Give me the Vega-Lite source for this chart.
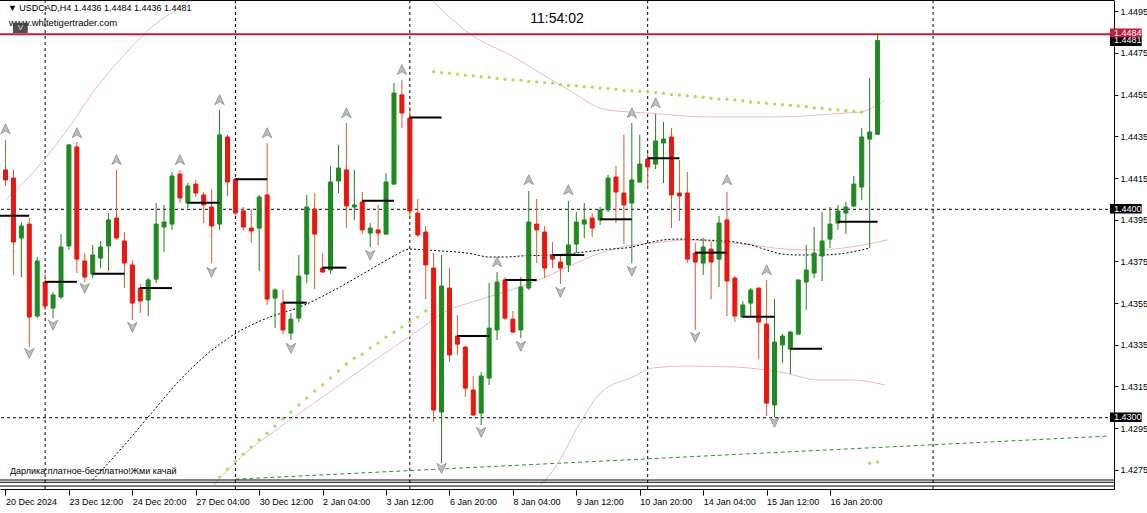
{
"$schema":"https://vega.github.io/schema/vega-lite/v6.json",
"width":1114,"height":489,
"autosize":{"type":"none"},
"padding":{"left":0,"top":0,"right":33,"bottom":24},
"background":"white",
"config":{"view":{"stroke":null},"font":"Liberation Sans",
 "axisX":{"orient":"bottom","title":null,"grid":false,
    "labelAlign":"left","labelBaseline":"top","labelPadding":2,"tickSize":6,"tickColor":"#000","domainColor":"#000","labelColor":"#000","labelFont":"Liberation Sans","labelFontSize":9,"labelOverlap":false,"labelFlush":false,"labelBound":false},
 "axisY":{"orient":"right","title":null,"grid":false,
    "tickSize":4,"labelPadding":2,"tickColor":"#000","domainColor":"#000","labelColor":"#000","labelFont":"Liberation Sans","labelFontSize":9,"labelOverlap":false,"labelFlush":false,"labelBound":false}
},
"datasets":{
"candles":[
{"i":0,"o":1.44189,"h":1.44333,"l":1.44112,"c":1.44141},
{"i":1,"o":1.44150,"h":1.44189,"l":1.43685,"c":1.43843},
{"i":2,"o":1.43862,"h":1.43939,"l":1.43675,"c":1.43920},
{"i":3,"o":1.43929,"h":1.43958,"l":1.43339,"c":1.43483},
{"i":4,"o":1.43488,"h":1.43771,"l":1.43478,"c":1.43752},
{"i":5,"o":1.43651,"h":1.43689,"l":1.43517,"c":1.43536},
{"i":6,"o":1.43526,"h":1.43603,"l":1.43478,"c":1.43589},
{"i":7,"o":1.43579,"h":1.43881,"l":1.43570,"c":1.43819},
{"i":8,"o":1.43824,"h":1.44312,"l":1.43805,"c":1.44309},
{"i":9,"o":1.44299,"h":1.44323,"l":1.43694,"c":1.43761},
{"i":10,"o":1.43752,"h":1.43790,"l":1.43651,"c":1.43675},
{"i":11,"o":1.43689,"h":1.43829,"l":1.43670,"c":1.43781},
{"i":12,"o":1.43766,"h":1.43848,"l":1.43718,"c":1.43819},
{"i":13,"o":1.43824,"h":1.43982,"l":1.43704,"c":1.43949},
{"i":14,"o":1.43958,"h":1.44189,"l":1.43855,"c":1.43862},
{"i":15,"o":1.43848,"h":1.43891,"l":1.43622,"c":1.43742},
{"i":16,"o":1.43733,"h":1.43757,"l":1.43469,"c":1.43550},
{"i":17,"o":1.43622,"h":1.43641,"l":1.43502,"c":1.43560},
{"i":18,"o":1.43565,"h":1.43670,"l":1.43488,"c":1.43661},
{"i":19,"o":1.43665,"h":1.44030,"l":1.43646,"c":1.43929},
{"i":20,"o":1.43915,"h":1.44021,"l":1.43795,"c":1.43939},
{"i":21,"o":1.43929,"h":1.44179,"l":1.43901,"c":1.44160},
{"i":22,"o":1.44169,"h":1.44189,"l":1.44030,"c":1.44054},
{"i":23,"o":1.44030,"h":1.44126,"l":1.44006,"c":1.44112},
{"i":24,"o":1.44121,"h":1.44141,"l":1.44059,"c":1.44078},
{"i":25,"o":1.44069,"h":1.44083,"l":1.43934,"c":1.44021},
{"i":26,"o":1.44011,"h":1.44097,"l":1.43742,"c":1.43920},
{"i":27,"o":1.43929,"h":1.44477,"l":1.43901,"c":1.44357},
{"i":28,"o":1.44347,"h":1.44357,"l":1.44064,"c":1.44131},
{"i":29,"o":1.44145,"h":1.44150,"l":1.43973,"c":1.43982},
{"i":30,"o":1.43992,"h":1.44011,"l":1.43896,"c":1.43915},
{"i":31,"o":1.43910,"h":1.44001,"l":1.43838,"c":1.43896},
{"i":32,"o":1.43910,"h":1.44069,"l":1.43704,"c":1.44059},
{"i":33,"o":1.44069,"h":1.44318,"l":1.43541,"c":1.43569},
{"i":34,"o":1.43574,"h":1.43622,"l":1.43430,"c":1.43613},
{"i":35,"o":1.43550,"h":1.43613,"l":1.43401,"c":1.43421},
{"i":36,"o":1.43406,"h":1.43502,"l":1.43373,"c":1.43473},
{"i":37,"o":1.43478,"h":1.43781,"l":1.43459,"c":1.43680},
{"i":38,"o":1.43689,"h":1.44069,"l":1.43646,"c":1.44011},
{"i":39,"o":1.44001,"h":1.44078,"l":1.43617,"c":1.43881},
{"i":40,"o":1.43718,"h":1.43790,"l":1.43695,"c":1.43699},
{"i":41,"o":1.43709,"h":1.44208,"l":1.43689,"c":1.44131},
{"i":42,"o":1.44136,"h":1.44309,"l":1.44078,"c":1.44198},
{"i":43,"o":1.44189,"h":1.44414,"l":1.43910,"c":1.44016},
{"i":44,"o":1.44011,"h":1.44189,"l":1.43949,"c":1.44021},
{"i":45,"o":1.44035,"h":1.44083,"l":1.43881,"c":1.43901},
{"i":46,"o":1.43886,"h":1.43934,"l":1.43819,"c":1.43910},
{"i":47,"o":1.43901,"h":1.44021,"l":1.43829,"c":1.43886},
{"i":48,"o":1.43881,"h":1.44174,"l":1.43878,"c":1.44131},
{"i":49,"o":1.44121,"h":1.44606,"l":1.44117,"c":1.44558},
{"i":50,"o":1.44549,"h":1.44621,"l":1.44390,"c":1.44462},
{"i":51,"o":1.44438,"h":1.44491,"l":1.43963,"c":1.43992},
{"i":52,"o":1.43982,"h":1.44049,"l":1.43867,"c":1.43877},
{"i":53,"o":1.43891,"h":1.43920,"l":1.43569,"c":1.43733},
{"i":54,"o":1.43718,"h":1.43790,"l":1.42979,"c":1.43037},
{"i":55,"o":1.43027,"h":1.43781,"l":1.42782,"c":1.43632},
{"i":56,"o":1.43622,"h":1.43718,"l":1.43267,"c":1.43301},
{"i":57,"o":1.43392,"h":1.43493,"l":1.43301,"c":1.43353},
{"i":58,"o":1.43339,"h":1.43344,"l":1.43099,"c":1.43142},
{"i":59,"o":1.43133,"h":1.43200,"l":1.43008,"c":1.43013},
{"i":60,"o":1.43022,"h":1.43219,"l":1.42965,"c":1.43200},
{"i":61,"o":1.43190,"h":1.43646,"l":1.43157,"c":1.43430},
{"i":62,"o":1.43421,"h":1.43699,"l":1.43373,"c":1.43651},
{"i":63,"o":1.43661,"h":1.43675,"l":1.43469,"c":1.43478},
{"i":64,"o":1.43473,"h":1.43512,"l":1.43406,"c":1.43411},
{"i":65,"o":1.43421,"h":1.43675,"l":1.43382,"c":1.43627},
{"i":66,"o":1.43622,"h":1.44088,"l":1.43613,"c":1.43939},
{"i":67,"o":1.43929,"h":1.44049,"l":1.43742,"c":1.43901},
{"i":68,"o":1.43891,"h":1.43920,"l":1.43670,"c":1.43718},
{"i":69,"o":1.43781,"h":1.43843,"l":1.43718,"c":1.43761},
{"i":70,"o":1.43747,"h":1.43781,"l":1.43641,"c":1.43718},
{"i":71,"o":1.43733,"h":1.44040,"l":1.43699,"c":1.43829},
{"i":72,"o":1.43833,"h":1.43987,"l":1.43790,"c":1.43939},
{"i":73,"o":1.43929,"h":1.44030,"l":1.43862,"c":1.43949},
{"i":74,"o":1.43958,"h":1.43982,"l":1.43867,"c":1.43910},
{"i":75,"o":1.43949,"h":1.44011,"l":1.43925,"c":1.43997},
{"i":76,"o":1.43997,"h":1.44165,"l":1.43987,"c":1.44150},
{"i":77,"o":1.44155,"h":1.44208,"l":1.43934,"c":1.44083},
{"i":78,"o":1.44078,"h":1.44357,"l":1.43833,"c":1.44021},
{"i":79,"o":1.44030,"h":1.44414,"l":1.43742,"c":1.44141},
{"i":80,"o":1.44131,"h":1.44357,"l":1.44126,"c":1.44217},
{"i":81,"o":1.44241,"h":1.44270,"l":1.44097,"c":1.44203},
{"i":82,"o":1.44217,"h":1.44457,"l":1.44193,"c":1.44328},
{"i":83,"o":1.44318,"h":1.44419,"l":1.44126,"c":1.44337},
{"i":84,"o":1.44347,"h":1.44390,"l":1.43910,"c":1.44069},
{"i":85,"o":1.44078,"h":1.44237,"l":1.43944,"c":1.44064},
{"i":86,"o":1.44078,"h":1.44179,"l":1.43742,"c":1.43761},
{"i":87,"o":1.43790,"h":1.43838,"l":1.43421,"c":1.43747},
{"i":88,"o":1.43742,"h":1.43862,"l":1.43685,"c":1.43819},
{"i":89,"o":1.43809,"h":1.43843,"l":1.43569,"c":1.43747},
{"i":90,"o":1.43761,"h":1.43968,"l":1.43627,"c":1.43934},
{"i":91,"o":1.43949,"h":1.44083,"l":1.43488,"c":1.43656},
{"i":92,"o":1.43670,"h":1.43680,"l":1.43459,"c":1.43488},
{"i":93,"o":1.43483,"h":1.43560,"l":1.43478,"c":1.43541},
{"i":94,"o":1.43550,"h":1.43622,"l":1.43483,"c":1.43613},
{"i":95,"o":1.43622,"h":1.43627,"l":1.43281,"c":1.43459},
{"i":96,"o":1.43449,"h":1.43661,"l":1.43008,"c":1.43070},
{"i":97,"o":1.43061,"h":1.43569,"l":1.43003,"c":1.43363},
{"i":98,"o":1.43349,"h":1.43401,"l":1.43262,"c":1.43392},
{"i":99,"o":1.43329,"h":1.43416,"l":1.43209,"c":1.43411},
{"i":100,"o":1.43401,"h":1.43661,"l":1.43396,"c":1.43661},
{"i":101,"o":1.43651,"h":1.43829,"l":1.43517,"c":1.43709},
{"i":102,"o":1.43694,"h":1.43915,"l":1.43670,"c":1.43790},
{"i":103,"o":1.43776,"h":1.43987,"l":1.43656,"c":1.43848},
{"i":104,"o":1.43857,"h":1.44011,"l":1.43814,"c":1.43929},
{"i":105,"o":1.43934,"h":1.44021,"l":1.43901,"c":1.43992},
{"i":106,"o":1.43982,"h":1.44035,"l":1.43881,"c":1.44011},
{"i":107,"o":1.44016,"h":1.44160,"l":1.44011,"c":1.44121},
{"i":108,"o":1.44107,"h":1.44390,"l":1.44045,"c":1.44347},
{"i":109,"o":1.44337,"h":1.44630,"l":1.43814,"c":1.44371},
{"i":110,"o":1.4436,"h":1.4484,"l":1.4436,"c":1.4481}
],
"fractals":[
{"i":0,"p":1.44385,"d":"up"},{"i":9,"p":1.44366,"d":"up"},{"i":14,"p":1.44237,"d":"up"},{"i":22,"p":1.44237,"d":"up"},{"i":27,"p":1.44525,"d":"up"},{"i":33,"p":1.44366,"d":"up"},{"i":43,"p":1.44462,"d":"up"},{"i":50,"p":1.44669,"d":"up"},{"i":62,"p":1.43747,"d":"up"},{"i":66,"p":1.44141,"d":"up"},{"i":71,"p":1.44093,"d":"up"},{"i":79,"p":1.44462,"d":"up"},{"i":82,"p":1.44510,"d":"up"},{"i":91,"p":1.44141,"d":"up"},{"i":96,"p":1.43709,"d":"up"},
{"i":3,"p":1.43310,"d":"down"},{"i":6,"p":1.43445,"d":"down"},{"i":10,"p":1.43622,"d":"down"},{"i":16,"p":1.43435,"d":"down"},{"i":26,"p":1.43699,"d":"down"},{"i":36,"p":1.43334,"d":"down"},{"i":46,"p":1.43781,"d":"down"},{"i":55,"p":1.42758,"d":"down"},{"i":60,"p":1.42931,"d":"down"},{"i":65,"p":1.43344,"d":"down"},{"i":70,"p":1.43603,"d":"down"},{"i":79,"p":1.43704,"d":"down"},{"i":87,"p":1.43387,"d":"down"},{"i":97,"p":1.42979,"d":"down"}
],
"segments":[
{"a":-1,"b":3,"p":1.43969},{"a":5,"b":9,"p":1.43652},{"a":11,"b":15,"p":1.43691},{"a":17,"b":21,"p":1.43622},{"a":23,"b":27,"p":1.44032},{"a":29,"b":33,"p":1.44144},{"a":35,"b":38,"p":1.43552},{"a":40,"b":43,"p":1.43720},{"a":45,"b":49,"p":1.44041},{"a":51,"b":55,"p":1.44440},{"a":57,"b":61,"p":1.43392},{"a":63,"b":67,"p":1.43661},{"a":69,"b":73,"p":1.43781},{"a":75,"b":79,"p":1.43952},{"a":81,"b":85,"p":1.44245},{"a":87,"b":91,"p":1.43792},{"a":93,"b":97,"p":1.43484},{"a":99,"b":103,"p":1.43331},{"a":105,"b":110,"p":1.43940}
],
"ma":[
{"i":11,"p":1.42701},{"i":15,"p":1.42869},{"i":18.75,"p":1.43037},{"i":22,"p":1.43181},{"i":25,"p":1.43291},{"i":29.1,"p":1.43406},{"i":33,"p":1.43478},{"i":37.1,"p":1.43531},{"i":41,"p":1.43603},{"i":43.75,"p":1.43661},{"i":47,"p":1.43733},{"i":49,"p":1.43776},{"i":51,"p":1.43809},{"i":53,"p":1.43805},{"i":55,"p":1.43800},{"i":57,"p":1.43795},{"i":59,"p":1.43785},{"i":61,"p":1.43771},{"i":63,"p":1.43771},{"i":65,"p":1.43776},{"i":69,"p":1.43781},{"i":73,"p":1.43795},{"i":75,"p":1.43805},{"i":79,"p":1.43819},{"i":81,"p":1.43838},{"i":83,"p":1.43853},{"i":85,"p":1.43857},{"i":88,"p":1.43853},{"i":92,"p":1.43843},{"i":94,"p":1.43829},{"i":96,"p":1.43805},{"i":98,"p":1.43785},{"i":100,"p":1.43781},{"i":103,"p":1.43781},{"i":106,"p":1.43790},{"i":108,"p":1.43805},{"i":109,"p":1.43814}
],
"bandUp":[
{"i":0,"p":1.44045},{"i":4.1,"p":1.44203},{"i":8.4,"p":1.44414},{"i":11.25,"p":1.44573},{"i":15,"p":1.44741},{"i":18.75,"p":1.44885},{"i":22.5,"p":1.44981},{"i":25,"p":1.45053},{"i":37.5,"p":1.45293},{"i":52.5,"p":1.45053},{"i":53.75,"p":1.45005},{"i":58.4,"p":1.44846},{"i":64.1,"p":1.44731},{"i":70.4,"p":1.44587},{"i":75.9,"p":1.44477},{"i":80.9,"p":1.44462},{"i":89.1,"p":1.44443},{"i":97.5,"p":1.44443},{"i":105.9,"p":1.44462},{"i":107.9,"p":1.44467},{"i":110.9,"p":1.44525}
],
"bandMid":[
{"i":26.25,"p":1.42677},{"i":30,"p":1.42821},{"i":35,"p":1.42965},{"i":40,"p":1.43099},{"i":46.6,"p":1.43277},{"i":51.6,"p":1.43406},{"i":55.9,"p":1.43517},{"i":58.4,"p":1.43550},{"i":62.5,"p":1.43598},{"i":66.6,"p":1.43651},{"i":70.9,"p":1.43723},{"i":75,"p":1.43790},{"i":79.1,"p":1.43829},{"i":81.6,"p":1.43838},{"i":85.9,"p":1.43853},{"i":90,"p":1.43843},{"i":94.1,"p":1.43829},{"i":98.4,"p":1.43809},{"i":102.5,"p":1.43805},{"i":106.6,"p":1.43819},{"i":111.25,"p":1.43853}
],
"bandLow":[
{"i":67.5,"p":1.42677},{"i":69.1,"p":1.42749},{"i":72.9,"p":1.43003},{"i":75,"p":1.43118},{"i":79.1,"p":1.43195},{"i":81.6,"p":1.43238},{"i":85.9,"p":1.43248},{"i":92.1,"p":1.43243},{"i":98.4,"p":1.43214},{"i":102.5,"p":1.43181},{"i":106.6,"p":1.43181},{"i":110.9,"p":1.43157}
],
"dots":[
{"i":27,"p":1.42715},{"i":28,"p":1.42753},{"i":29,"p":1.42792},{"i":30,"p":1.42825},{"i":31,"p":1.42859},{"i":32,"p":1.42893},{"i":33,"p":1.42926},{"i":34,"p":1.42960},{"i":35,"p":1.42993},{"i":36,"p":1.43027},{"i":37,"p":1.43061},{"i":38,"p":1.43094},{"i":39,"p":1.43128},{"i":40,"p":1.43157},{"i":41,"p":1.43190},{"i":42,"p":1.43224},{"i":43,"p":1.43257},{"i":44,"p":1.43286},{"i":45,"p":1.43305},{"i":46,"p":1.43334},{"i":47,"p":1.43358},{"i":48,"p":1.43387},{"i":49,"p":1.43410},{"i":50,"p":1.43435},{"i":51,"p":1.43459},{"i":52,"p":1.43483},{"i":53,"p":1.43512},
{"i":54,"p":1.44660},{"i":55,"p":1.44656},{"i":56,"p":1.44653},{"i":57,"p":1.44649},{"i":58,"p":1.44643},{"i":59,"p":1.44640},{"i":60,"p":1.44636},{"i":61,"p":1.44634},{"i":62,"p":1.44627},{"i":63,"p":1.44624},{"i":64,"p":1.44621},{"i":65,"p":1.44619},{"i":66,"p":1.44614},{"i":67,"p":1.44611},{"i":68,"p":1.44608},{"i":69,"p":1.44605},{"i":70,"p":1.44598},{"i":71,"p":1.44595},{"i":72,"p":1.44592},{"i":73,"p":1.44588},{"i":74,"p":1.44586},{"i":75,"p":1.44582},{"i":76,"p":1.44579},{"i":77,"p":1.44576},{"i":78,"p":1.44569},{"i":79,"p":1.44568},{"i":80,"p":1.44566},{"i":81,"p":1.44563},{"i":82,"p":1.44560},{"i":83,"p":1.44557},{"i":84,"p":1.44550},{"i":85,"p":1.44549},{"i":86,"p":1.44545},{"i":87,"p":1.44540},{"i":88,"p":1.44538},{"i":89,"p":1.44533},{"i":90,"p":1.44529},{"i":91,"p":1.44528},{"i":92,"p":1.44525},{"i":93,"p":1.44521},{"i":94,"p":1.44515},{"i":95,"p":1.44512},{"i":96,"p":1.44509},{"i":97,"p":1.44505},{"i":98,"p":1.44502},{"i":99,"p":1.44499},{"i":100,"p":1.44496},{"i":101,"p":1.44492},{"i":102,"p":1.44486},{"i":103,"p":1.44485},{"i":104,"p":1.44480},{"i":105,"p":1.44477},{"i":106,"p":1.44473},{"i":107,"p":1.44470},{"i":108,"p":1.44467},
{"i":109,"p":1.42782},{"i":110,"p":1.42787}
],
"levels":[{"p":1.44},{"p":1.43}],
"seps":[{"i":5},{"i":29},{"i":51},{"i":81},{"i":117}],
"frame":[{"p":1.45002},{"p":1.42701},{"p":1.42690},{"p":1.42672}],
"trend":[{"a":29,"b":139.19,"p1":1.42705,"p2":1.42912}],
"tagsBlack":[{"t":"1.4481","p":1.44810,"p1":1.44837,"p2":1.44784},{"t":"1.4400","p":1.44,"p1":1.44025,"p2":1.43980},{"t":"1.4300","p":1.43002,"p1":1.43025,"p2":1.42979}],
"tagsRed":[{"t":"1.4484","p":1.44846,"p1":1.44868,"p2":1.44825}]
},
"layer":[
{"data":{"name":"seps"},"mark":{"type":"rule","color":"#000","strokeWidth":1,"strokeDash":[3,3]},
 "encoding":{"x":{"field":"i","type":"quantitative","title":null,"scale":{"domain":[-0.0625,139.1875],"nice":false,"zero":false}}}},
{"data":{"name":"levels"},"mark":{"type":"rule","color":"#000","strokeWidth":1,"strokeDash":[3,3]},
 "encoding":{"y":{"field":"p","type":"quantitative","title":null,"scale":{"domain":[1.426579,1.450043],"nice":false,"zero":false}}}},
{"data":{"name":"trend"},"mark":{"type":"rule","color":"#2f8f2f","strokeWidth":1,"strokeDash":[4,3]},
 "encoding":{"x":{"field":"a","type":"quantitative","title":null},"x2":{"field":"b"},"y":{"field":"p1","type":"quantitative","title":null},"y2":{"field":"p2"}}},
{"data":{"name":"bandUp"},"mark":{"type":"line","color":"#f2b4c4","strokeWidth":1,"interpolate":"monotone","clip":true},
 "encoding":{"x":{"field":"i","type":"quantitative","title":null},"y":{"field":"p","type":"quantitative","title":null}}},
{"data":{"name":"bandMid"},"mark":{"type":"line","color":"#f2b4c4","strokeWidth":1,"interpolate":"monotone","clip":true},
 "encoding":{"x":{"field":"i","type":"quantitative","title":null},"y":{"field":"p","type":"quantitative","title":null}}},
{"data":{"name":"bandLow"},"mark":{"type":"line","color":"#f2b4c4","strokeWidth":1,"interpolate":"monotone","clip":true},
 "encoding":{"x":{"field":"i","type":"quantitative","title":null},"y":{"field":"p","type":"quantitative","title":null}}},
{"data":{"name":"ma"},"mark":{"type":"line","color":"#000","strokeWidth":1,"strokeDash":[2,2],"interpolate":"monotone","clip":true},
 "encoding":{"x":{"field":"i","type":"quantitative","title":null},"y":{"field":"p","type":"quantitative","title":null}}},
{"data":{"name":"dots"},"mark":{"type":"point","filled":true,"size":11,"color":"#aee04e","opacity":1,"clip":true},
 "encoding":{"x":{"field":"i","type":"quantitative","title":null},"y":{"field":"p","type":"quantitative","title":null}}},
{"data":{"name":"candles"},"mark":{"type":"rule","strokeWidth":1,"clip":true},
 "encoding":{
  "x":{"field":"i","type":"quantitative","title":null,"scale":{"domain":[-0.0625,139.1875],"nice":false,"zero":false},
   "axis":{"values":[0,8,16,24,32,40,48,56,64,72,80,88,96,104],"labelExpr":"['20 Dec 2024','23 Dec 12:00','24 Dec 20:00','27 Dec 04:00','30 Dec 12:00','2 Jan 04:00','3 Jan 12:00','6 Jan 20:00','8 Jan 04:00','9 Jan 12:00','10 Jan 20:00','14 Jan 04:00','15 Jan 12:00','16 Jan 20:00'][round(datum.value/8)]"}},
  "y":{"field":"l","type":"quantitative","title":null,"scale":{"domain":[1.426579,1.450043],"nice":false,"zero":false},
   "axis":{"values":[1.4275,1.4295,1.4315,1.4335,1.4355,1.4375,1.4395,1.4415,1.4435,1.4455,1.4475,1.4495],"format":".4f"}},
  "y2":{"field":"h"},
  "color":{"condition":{"test":"datum.c >= datum.o","value":"#1f7f1f"},"value":"#d0602c"}}},
{"data":{"name":"candles"},"mark":{"type":"bar","width":4,"strokeWidth":1,"clip":true},
 "encoding":{
  "x":{"field":"i","type":"quantitative","title":null},
  "y":{"field":"o","type":"quantitative","title":null},"y2":{"field":"c"},
  "fill":{"condition":{"test":"datum.c >= datum.o","value":"#1f8a1f"},"value":"#e8170f"},
  "stroke":{"condition":{"test":"datum.c >= datum.o","value":"#1f8a1f"},"value":"#e8170f"}}},
{"data":{"name":"segments"},"mark":{"type":"rule","color":"#000","strokeWidth":2,"clip":true},
 "encoding":{"x":{"field":"a","type":"quantitative","title":null},"x2":{"field":"b"},"y":{"field":"p","type":"quantitative","title":null}}},
{"data":{"name":"fractals"},"mark":{"type":"point","filled":true,"size":110,"fill":"#bdbdbd","stroke":"#8a8a8a","strokeWidth":0.8,"opacity":1},
 "encoding":{"x":{"field":"i","type":"quantitative","title":null},"y":{"field":"p","type":"quantitative","title":null},
  "shape":{"field":"d","type":"nominal","legend":null,"scale":{"domain":["up","down"],"range":["M0,-1L0.9,0.9L0,0.35L-0.9,0.9Z","M0,1L0.9,-0.9L0,-0.35L-0.9,-0.9Z"]}}}},
{"data":{"values":[{}]},"mark":{"type":"rule","color":"#c21d3d","strokeWidth":2},
 "encoding":{"y":{"datum":1.4484,"type":"quantitative","title":null}}},
{"data":{"name":"frame"},"mark":{"type":"rule","color":"#000","strokeWidth":1},
 "encoding":{"y":{"field":"p","type":"quantitative","title":null}}},
{"data":{"values":[{}]},"mark":{"type":"text","text":"▼ USDCAD,H4  1.4436 1.4484 1.4436 1.4481","align":"left","baseline":"middle","font":"Liberation Sans","fontSize":9,"color":"#000"},
 "encoding":{"x":{"datum":0.31,"type":"quantitative","title":null},"y":{"datum":1.44966,"type":"quantitative","title":null}}},
{"data":{"values":[{}]},"mark":{"type":"text","text":"www.whitetigertrader.com","align":"left","baseline":"middle","font":"Liberation Sans","fontSize":9.5,"color":"#000"},
 "encoding":{"x":{"datum":0.44,"type":"quantitative","title":null},"y":{"datum":1.44896,"type":"quantitative","title":null}}},
{"data":{"values":[{}]},"mark":{"type":"rect","color":"#3c3c3c","opacity":0.9},
 "encoding":{"x":{"datum":0.94,"type":"quantitative","title":null},"x2":{"datum":2.81},"y":{"datum":1.44894,"type":"quantitative","title":null},"y2":{"datum":1.44846}}},
{"data":{"values":[{}]},"mark":{"type":"text","text":"V","align":"center","baseline":"middle","font":"Liberation Sans","fontSize":8,"color":"#d8d8d8"},
 "encoding":{"x":{"datum":1.87,"type":"quantitative","title":null},"y":{"datum":1.44868,"type":"quantitative","title":null}}},
{"data":{"values":[{}]},"mark":{"type":"text","text":"11:54:02","align":"center","baseline":"middle","font":"Liberation Sans","fontSize":14,"color":"#000"},
 "encoding":{"x":{"datum":69.56,"type":"quantitative","title":null},"y":{"datum":1.44913,"type":"quantitative","title":null}}},
{"data":{"values":[{}]},"mark":{"type":"text","text":"Дарлика:платное-бесплатно!Жми качай","align":"left","baseline":"middle","font":"Liberation Sans","fontSize":9,"color":"#000"},
 "encoding":{"x":{"datum":0.56,"type":"quantitative","title":null},"y":{"datum":1.42745,"type":"quantitative","title":null}}},
{"data":{"name":"tagsBlack"},"mark":{"type":"rect","color":"#000"},
 "encoding":{"x":{"datum":139.31,"type":"quantitative","title":null},"x2":{"datum":143.31},"y":{"field":"p1","type":"quantitative","title":null},"y2":{"field":"p2"}}},
{"data":{"name":"tagsBlack"},"mark":{"type":"text","align":"left","baseline":"middle","font":"Liberation Sans","fontSize":9,"color":"#fff"},
 "encoding":{"x":{"datum":139.81,"type":"quantitative","title":null},"y":{"field":"p","type":"quantitative","title":null},"text":{"field":"t"}}},
{"data":{"name":"tagsRed"},"mark":{"type":"rect","color":"#c21d3d"},
 "encoding":{"x":{"datum":139.31,"type":"quantitative","title":null},"x2":{"datum":143.31},"y":{"field":"p1","type":"quantitative","title":null},"y2":{"field":"p2"}}},
{"data":{"name":"tagsRed"},"mark":{"type":"text","align":"left","baseline":"middle","font":"Liberation Sans","fontSize":9,"color":"#fff"},
 "encoding":{"x":{"datum":139.81,"type":"quantitative","title":null},"y":{"field":"p","type":"quantitative","title":null},"text":{"field":"t"}}}
]
}
